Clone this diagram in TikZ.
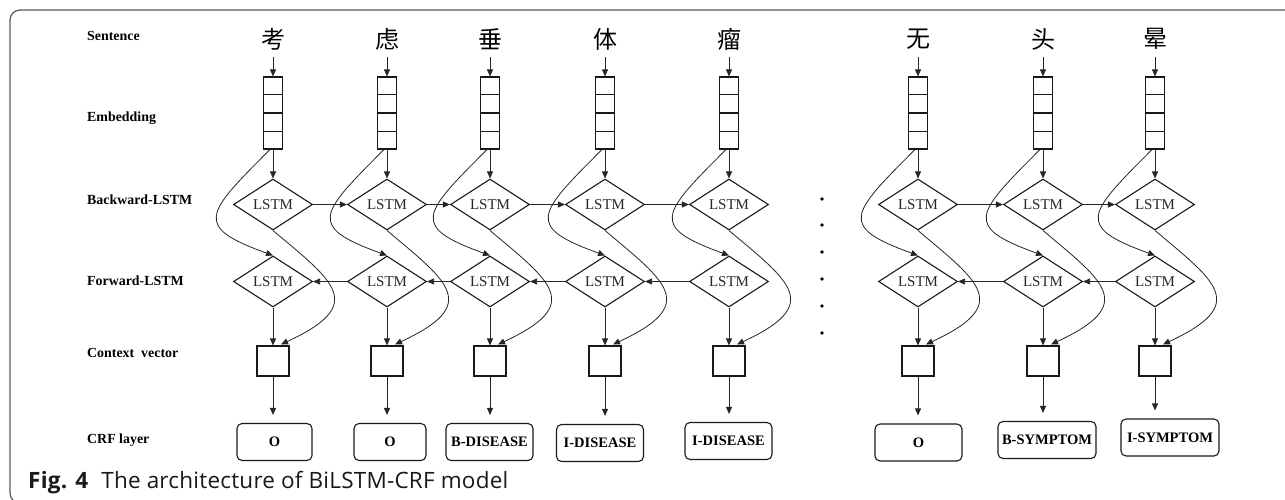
\documentclass[tikz,border=0pt]{standalone}
\usepackage{fontspec}
\setmainfont{Liberation Serif}
\newfontfamily\cjk{Noto Sans CJK SC}
\newfontfamily\capfont[LetterSpace=1]{Open Sans}
\usetikzlibrary{shapes.geometric,arrows.meta,calc}
\begin{document}
\begin{tikzpicture}[x=1pt,y=-1pt,
  conn/.style={draw=black!85, line width=0.8pt},
  arr/.style={conn, -{Triangle[length=7pt,width=6pt]}},
  lstm/.style={diamond, draw=black!90, line width=1.1pt, minimum width=79pt, minimum height=51pt, inner sep=0pt, font=\fontsize{15}{16}\selectfont, text=black!85},
  embbox/.style={rectangle, draw=black!90, line width=1.1pt, minimum width=19pt, minimum height=72pt, inner sep=0pt},
  ctxbox/.style={rectangle, draw=black!90, line width=1.1pt, minimum width=32pt, minimum height=30pt, inner sep=0pt},
  crfbox/.style={rectangle, rounded corners=5pt, draw=black!90, line width=1.1pt, minimum height=37pt, inner sep=0pt, font=\bfseries\fontsize{14.5}{16}\selectfont},
  rowlabel/.style={anchor=west, inner sep=0pt, font=\bfseries\fontsize{13.9}{16}\selectfont},
  chr/.style={font=\cjk\fontsize{24}{24}\selectfont, minimum height=36pt, inner sep=0pt},
  dotn/.style={circle, fill=black, inner sep=0pt, minimum size=3.6pt}
]
\useasboundingbox (0,0) rectangle (1285,500);
\draw[draw=black!65, line width=1.2pt, rounded corners=10pt] (10,10) rectangle (1310,503);

% row labels
\node[rowlabel] (lsent) at (87,36) {Sentence};
\node[rowlabel] (lemb) at (87,118) {Embedding};
\node[rowlabel] (lback) at (87,200) {Backward-LSTM};
\node[rowlabel] (lfwd) at (87,281) {Forward-LSTM};
\node[rowlabel] (lctx) at (87,353) {Context\ \ vector};
\node[rowlabel] (lcrf) at (87,440) {CRF layer};

% columns
\foreach \i/\cx/\ch in {1/273/考, 2/387/虑, 3/490/垂, 4/605/体, 5/729/瘤, 6/918/无, 7/1043/头, 8/1155/晕}{
  \node[chr] (c\i) at (\cx,39) {\ch};
  \node[embbox] (e\i) at (\cx,113) {};
  \foreach \k in {0.25,0.5,0.75}{
    \draw[black!90, line width=1.1pt] ($(e\i.north west)!\k!(e\i.south west)$) -- ($(e\i.north east)!\k!(e\i.south east)$);
  }
  \node[lstm] (b\i) at (\cx,204.5) {LSTM};
  \node[lstm] (f\i) at (\cx,281.5) {LSTM};
  \node[ctxbox] (x\i) at (\cx,361) {};
  \draw[arr] (c\i) -- (e\i);
  \draw[arr] (e\i) -- (b\i);
  \draw[arr] (f\i) -- (x\i);
  \draw[arr] ($(e\i.south)+(-3,0)$) .. controls +(-65,65) and +(-80,-29) .. (f\i.north);
  \draw[arr] (b\i.south) .. controls +(62,52) and +(86,-40) .. ($(x\i.north)+(8,-1)$);
}

% CRF boxes
\node[crfbox, minimum width=75pt] (r1) at (274.5,442) {O};
\node[crfbox, minimum width=72pt] (r2) at (390,442) {O};
\node[crfbox, minimum width=87pt] (r3) at (489.5,442) {B-DISEASE};
\node[crfbox, minimum width=87pt] (r4) at (600,443) {I-DISEASE};
\node[crfbox, minimum width=87pt] (r5) at (728.5,441) {I-DISEASE};
\node[crfbox, minimum width=87pt] (r6) at (918.5,442.5) {O};
\node[crfbox, minimum width=98pt] (r7) at (1047,440) {B-SYMPTOM};
\node[crfbox, minimum width=98pt] (r8) at (1170,437.5) {I-SYMPTOM};
\foreach \i in {1,...,8}{
  \draw[arr, shorten >=8pt] (x\i.south) -- (x\i.south |- r\i.north);
}

% recurrent connections
\foreach \i/\j in {1/2,2/3,3/4,4/5,6/7,7/8}{
  \draw[arr] (b\i.east) -- (b\j.west);
  \draw[arr] (f\j.west) -- (f\i.east);
}

% ellipsis dots
\foreach \k/\yy in {1/199,2/225,3/252,4/279,5/306,6/333}{
  \node[dotn] (d\k) at (822,\yy) {};
}

% caption
\node[anchor=base west, inner sep=0pt, font=\capfont\fontsize{22.5}{24}\selectfont, text=black!90] (cap) at (28,488) {\textbf{Fig. 4}\hspace{13pt}The architecture of BiLSTM-CRF model};
\end{tikzpicture}
\end{document}
